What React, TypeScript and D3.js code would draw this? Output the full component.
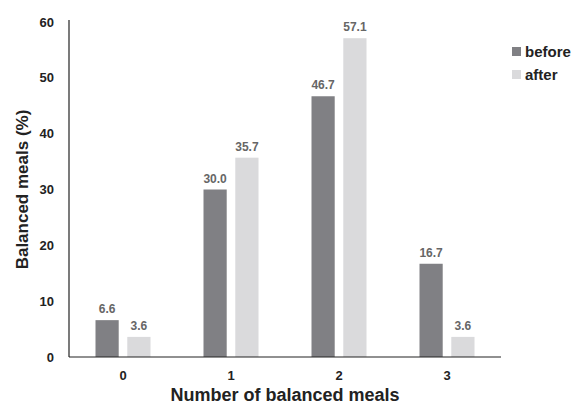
import React from "react";
import * as d3 from "d3";

const categories = ["0", "1", "2", "3"];
const seriesNames = ["before", "after"];
const beforeValues = [6.6, 30.0, 46.7, 16.7];
const afterValues = [3.6, 35.7, 57.1, 3.6];
const yTicks = [0, 10, 20, 30, 40, 50, 60];
const colors = ["#808084", "#dadadc"];

export default function App() {
  const W = 576, H = 405;
  const left = 69, right = 501, top = 22, bottom = 357;
  const x = d3.scaleBand<string>().domain(categories).range([left, right]);
  const y = d3.scaleLinear().domain([0, 60]).range([bottom, top]);
  const inner = d3.scaleBand<string>().domain(seriesNames).range([-27.5, 27.5]).paddingInner(0.27);
  const series = [beforeValues, afterValues];
  const font = "'Liberation Sans', Arial, sans-serif";
  return (
    <svg width={W} height={H} style={{ position: "absolute", left: 0, top: 0 }} fontFamily={font}>
      <rect width={W} height={H} fill="#fff" />
      {series.map((vals, si) =>
        vals.map((v, i) => {
          const cx = x(categories[i])! + x.bandwidth() / 2;
          const bx = cx + inner(seriesNames[si])!;
          return (
            <g key={`${si}-${i}`}>
              <rect x={bx} y={y(v)} width={inner.bandwidth()} height={y(0) - y(v)} fill={colors[si]} />
              <text x={bx + inner.bandwidth() / 2} y={y(v) - 7} textAnchor="middle" fontSize={12} fontWeight="bold" fill="#666">
                {v.toFixed(1)}
              </text>
            </g>
          );
        })
      )}
      <line x1={left} x2={left} y1={top - 2} y2={bottom} stroke="#222" strokeWidth={1.2} />
      <line x1={left} x2={right} y1={bottom} y2={bottom} stroke="#222" strokeWidth={1.2} />
      {yTicks.map((t) => (
        <text key={t} x={54} y={y(t)} dy="0.35em" textAnchor="end" fontSize={13} fontWeight="bold" fill="#222">
          {t}
        </text>
      ))}
      {categories.map((c) => (
        <text key={c} x={x(c)! + x.bandwidth() / 2} y={bottom + 18} dy="0.35em" textAnchor="middle" fontSize={13} fontWeight="bold" fill="#222">
          {c}
        </text>
      ))}
      <text transform={`translate(22, ${(top + bottom) / 2}) rotate(-90)`} textAnchor="middle" dy="0.35em" fontSize={17} fontWeight="bold" fill="#222">
        Balanced meals (%)
      </text>
      <text x={(left + right) / 2} y={395} dy="0.35em" textAnchor="middle" fontSize={18} fontWeight="bold" fill="#222">
        Number of balanced meals
      </text>
      {seriesNames.map((s, i) => (
        <g key={s} transform={`translate(512, ${47 + i * 23})`}>
          <rect width={9} height={9} fill={colors[i]} />
          <text x={13} y={4.5} dy="0.35em" fontSize={15} fontWeight="bold" fill="#222">
            {s}
          </text>
        </g>
      ))}
    </svg>
  );
}
